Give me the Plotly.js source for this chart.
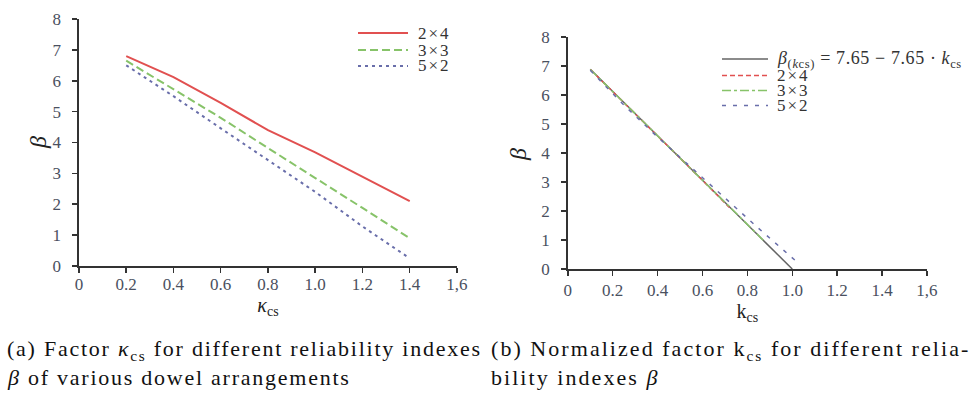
<!DOCTYPE html>
<html><head><meta charset="utf-8">
<script src="https://cdn.plot.ly/plotly-3.0.1.min.js"></script>
<style>html,body{margin:0;padding:0;background:#fff}#c{width:969px;height:396px}</style>
</head><body><div id="c"></div>
<script>
// Left chart (a): kappa_cs vs beta
const kappaCs = [0.2, 0.4, 0.6, 0.8, 1.0, 1.2, 1.4];
const beta2x4 = [6.8, 6.12, 5.28, 4.4, 3.68, 2.88, 2.1];
const beta3x3 = [6.65, 5.72, 4.8, 3.82, 2.86, 1.88, 0.9];
const beta5x2 = [6.5, 5.5, 4.46, 3.43, 2.4, 1.28, 0.25];

// Right chart (b): normalized k_cs vs beta
const kLine = [0.1, 1.0];
const betaLine = [6.885, 0.0];
const k2x4 = [0.1, 0.2, 0.3, 0.4, 0.5, 0.6, 0.72];
const b2x4 = [6.88, 6.12, 5.35, 4.6, 3.82, 3.06, 2.12];
const k3x3 = [0.1, 0.23, 0.36, 0.49, 0.62, 0.75, 0.88];
const b3x3 = [6.88, 5.9, 4.9, 3.9, 2.92, 1.92, 0.92];
const k5x2 = [0.1, 0.25, 0.4, 0.55, 0.7, 0.85, 1.02];
const b5x2 = [6.85, 5.65, 4.55, 3.5, 2.45, 1.4, 0.25];

const xTickVals = [0, 0.2, 0.4, 0.6, 0.8, 1.0, 1.2, 1.4, 1.6];
const xTickText = ['0', '0.2', '0.4', '0.6', '0.8', '1.0', '1.2', '1.4', '1,6'];
const yTickVals = [0, 1, 2, 3, 4, 5, 6, 7, 8];

const legendA = ['2×4', '3×3', '5×2'];
const legendB = ['<i>β</i><sub>(<i>k</i>cs)</sub> = 7.65 − 7.65 · <i>k</i><sub>cs</sub>', '2×4', '3×3', '5×2'];

const red = 'rgb(225,80,80)', green = 'rgb(135,195,105)', blue = 'rgb(105,110,170)', gray = 'rgb(100,100,100)';
const dashA = ['solid', '8px,4px', '3px,4px'];
const colA = [red, green, blue];
const dashB = ['solid', '5px,3px', 'dashdot', '4px,7px'];
const colB = [gray, red, green, blue];

const traces = [
  {x: kappaCs, y: beta2x4, name: legendA[0], mode: 'lines', line: {color: colA[0], width: 2, dash: dashA[0]}, xaxis: 'x', yaxis: 'y'},
  {x: kappaCs, y: beta3x3, name: legendA[1], mode: 'lines', line: {color: colA[1], width: 2, dash: dashA[1]}, xaxis: 'x', yaxis: 'y'},
  {x: kappaCs, y: beta5x2, name: legendA[2], mode: 'lines', line: {color: colA[2], width: 2, dash: dashA[2]}, xaxis: 'x', yaxis: 'y'},
  {x: kLine, y: betaLine, name: 'line', mode: 'lines', line: {color: colB[0], width: 1.5, dash: dashB[0]}, xaxis: 'x2', yaxis: 'y2'},
  {x: k2x4, y: b2x4, name: legendB[1], mode: 'lines', line: {color: colB[1], width: 1.5, dash: dashB[1]}, xaxis: 'x2', yaxis: 'y2'},
  {x: k3x3, y: b3x3, name: legendB[2], mode: 'lines', line: {color: colB[2], width: 1.5, dash: dashB[2]}, xaxis: 'x2', yaxis: 'y2'},
  {x: k5x2, y: b5x2, name: legendB[3], mode: 'lines', line: {color: colB[3], width: 1.5, dash: dashB[3]}, xaxis: 'x2', yaxis: 'y2'}
];

const serif = 'Liberation Serif';
const tickFont = {family: serif, size: 17, color: '#4a5060'};
const axCommon = {
  showgrid: false, zeroline: false, showline: true, linecolor: '#333', linewidth: 1.6,
  ticks: 'outside', ticklen: 5, tickwidth: 1.5, tickcolor: '#333', tickfont: tickFont, fixedrange: true
};

const W = 969, H = 396;
const px = v => v / W, py = v => 1 - v / H;
const shapes = [], annotations = [];
// legend (a)
const legAy = [33, 50, 66];
legendA.forEach((t, i) => {
  shapes.push({type: 'line', xref: 'paper', yref: 'paper', x0: px(358), x1: px(408), y0: py(legAy[i]), y1: py(legAy[i]),
    line: {color: colA[i], width: 2, dash: dashA[i]}});
  annotations.push({xref: 'paper', yref: 'paper', x: px(416), y: py(legAy[i]), xanchor: 'left', yanchor: 'middle', showarrow: false,
    text: '<span style="letter-spacing:2px">' + t + '</span>', font: {family: serif, size: 17, color: '#333'}});
});
// legend (b)
const legBy = [59, 75.5, 90.5, 105.5];
legendB.forEach((t, i) => {
  shapes.push({type: 'line', xref: 'paper', yref: 'paper', x0: px(722), x1: px(768), y0: py(legBy[i]), y1: py(legBy[i]),
    line: {color: colB[i], width: 1.5, dash: dashB[i]}});
  annotations.push({xref: 'paper', yref: 'paper', x: px(775), y: py(legBy[i]), xanchor: 'left', yanchor: 'middle', showarrow: false,
    text: '<span style="letter-spacing:' + (i === 0 ? '0.6px' : '2px') + '">' + t + '</span>', font: {family: serif, size: i === 0 ? 18 : 17, color: '#333'}});
});
// y-axis titles
annotations.push({xref: 'paper', yref: 'paper', x: px(38), y: py(143), xanchor: 'center', yanchor: 'middle', showarrow: false, textangle: -90,
  text: '<i>β</i>', font: {family: serif, size: 24, color: '#222'}});
annotations.push({xref: 'paper', yref: 'paper', x: px(518), y: py(155), xanchor: 'center', yanchor: 'middle', showarrow: false, textangle: -90,
  text: '<i>β</i>', font: {family: serif, size: 24, color: '#222'}});
// captions
[
  [5, 350, '1.75px', '(a) Factor <i>κ</i><sub>cs</sub> for different reliability indexes'],
  [5, 377, '1.75px', '<i>β</i> of various dowel arrangements'],
  [489, 350, '2.05px', '(b) Normalized factor k<sub>cs</sub> for different relia-'],
  [489, 377, '2.05px', 'bility indexes <i>β</i>']
].forEach(([x, y, ls, t]) => annotations.push({xref: 'paper', yref: 'paper', x: px(x), y: py(y), xanchor: 'left', yanchor: 'middle',
  showarrow: false, text: '<span style="letter-spacing:' + ls + '">' + t + '</span>', font: {family: serif, size: 22, color: '#111'}}));

const layout = {
  width: W, height: H, paper_bgcolor: '#fff', plot_bgcolor: '#fff',
  margin: {l: 0, r: 0, t: 0, b: 0},
  showlegend: false,
  xaxis: Object.assign({}, axCommon, {domain: [0.0815, 0.4716], range: [0, 1.6], tickvals: xTickVals, ticktext: xTickText, ticklabelstandoff: -3,
    title: {text: '<i>κ</i><sub>cs</sub>', font: {family: serif, size: 20, color: '#222'}, standoff: 2}, anchor: 'y'}),
  yaxis: Object.assign({}, axCommon, {domain: [0.3283, 0.952], range: [0, 8], tickvals: yTickVals, ticklabelstandoff: 8, anchor: 'x'}),
  xaxis2: Object.assign({}, axCommon, {domain: [0.586, 0.9566], range: [0, 1.6], tickvals: xTickVals, ticktext: xTickText, ticklabelstandoff: 0,
    title: {text: 'k<sub>cs</sub>', font: {family: serif, size: 20, color: '#222'}, standoff: 2}, anchor: 'y2'}),
  yaxis2: Object.assign({}, axCommon, {domain: [0.3207, 0.9066], range: [0, 8], tickvals: yTickVals, ticklabelstandoff: 8, anchor: 'x2'}),
  shapes: shapes,
  annotations: annotations
};

Plotly.newPlot('c', traces, layout, {displayModeBar: false, staticPlot: true});
</script></body></html>
